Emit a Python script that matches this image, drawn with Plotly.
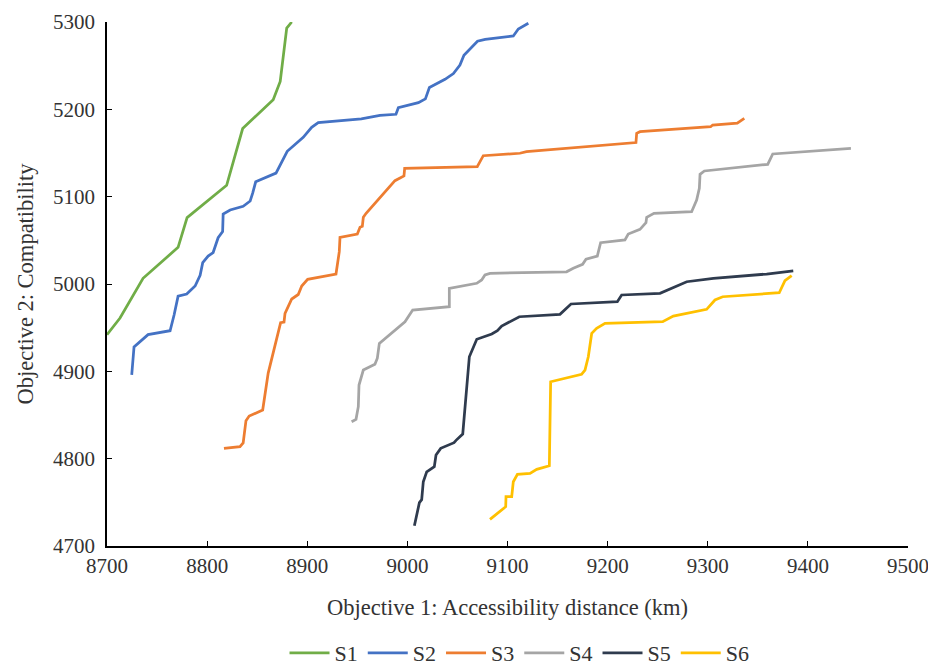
import plotly.graph_objects as go

# ---- data ----
s1_x = [8700, 8713, 8736, 8771, 8780, 8819.5, 8835.5, 8866, 8873, 8879.5, 8884.5]
s1_y = [4942, 4961, 5006.5, 5042, 5076, 5113, 5178, 5211, 5232, 5293, 5300]

s2_x = [8724.7, 8727, 8741, 8763, 8767, 8771, 8779.6, 8788, 8793, 8795.6, 8801, 8806, 8811,
        8815.5, 8816, 8823, 8836, 8843, 8845.5, 8848.5, 8868.8, 8880, 8896, 8904.4, 8911,
        8954, 8972.6, 8988.6, 8991, 9011, 9018, 9022, 9037.6, 9046, 9052.5, 9056.5, 9070,
        9077.7, 9105.8, 9110.8, 9120.8]
s2_y = [4896, 4928, 4942, 4946.5, 4964.5, 4986, 4988.5, 4997.7, 5010, 5024.4, 5032, 5036, 5053,
        5060, 5080, 5084.7, 5089, 5095, 5104, 5117, 5127, 5152, 5168, 5179.4, 5184.7,
        5189, 5193, 5194.3, 5201.9, 5207.6, 5212, 5225, 5234.4, 5241, 5250.8, 5262, 5278,
        5280, 5284, 5292, 5298.5]

s3_x = [8816.8, 8832.8, 8836, 8838.8, 8842, 8855.5, 8861, 8873.4, 8876.8, 8877.8, 8884.5,
        8891, 8894.5, 8900.4, 8928.7, 8932, 8932.7, 8950, 8952.7, 8955, 8956, 8958.8,
        8987.6, 8996.6, 8997.3, 9069.8, 9075.8, 9112.4, 9119, 9192.4, 9221.6, 9228.3,
        9229, 9232.3, 9302.9, 9304.9, 9329.5, 9332.2, 9336.5]
s3_y = [4811.8, 4813.7, 4818, 4843.5, 4848.8, 4855.7, 4898, 4955.7, 4956.5, 4966.4, 4982.8,
        4988, 4997.7, 5005.3, 5011.4, 5037, 5053.4, 5057.2, 5065, 5066, 5076.4, 5081,
        5118.3, 5123.7, 5132.5, 5134.3, 5146.9, 5149.7, 5151.5, 5158.4, 5161, 5162,
        5172.5, 5174.4, 5180.1, 5182, 5184.3, 5186.6, 5189.7]

s4_x = [8944.3, 8948.7, 8951, 8951.7, 8956, 8967.6, 8970, 8972, 8997.6, 9005.3, 9041.9,
        9041.9, 9069.3, 9074.2, 9077.5, 9082.5, 9159, 9165.7, 9175, 9178.4, 9189.7, 9193,
        9217.3, 9220.6, 9232.3, 9238.3, 9239, 9246.3, 9283.9, 9288.9, 9291.6, 9292.3,
        9296.6, 9359.9, 9364.9, 9443]
s4_y = [4842.3, 4845, 4859.5, 4884.3, 4901.5, 4908, 4915, 4932, 4956.8, 4970.2, 4974,
        4995, 5000.8, 5004.6, 5010.3, 5012.2, 5014, 5018, 5022.5, 5028.3, 5032, 5047.3,
        5050.4, 5057.2, 5062.6, 5070.2, 5076.4, 5081, 5082.8, 5096.2, 5109.6, 5125.6,
        5129.4, 5137, 5148.9, 5155.4]

s5_x = [9007, 9012, 9014.3, 9015.9, 9019.3, 9026.9, 9028.6, 9033.3, 9046.6, 9048.6, 9055.3,
        9061.9, 9069.3, 9084.3, 9089.9, 9094.2, 9111.8, 9152.4, 9163.4, 9209.7, 9214,
        9252.3, 9279, 9305.6, 9358.8, 9385.4]
s5_y = [4723.2, 4749.6, 4753, 4773.6, 4785, 4790.8, 4804.2, 4811.8, 4818.3, 4821, 4828.2,
        4916.7, 4936.7, 4942.7, 4946.5, 4951.9, 4962.5, 4965.3, 4977.1, 4979.7, 4987.4,
        4989.3, 5002.6, 5006.5, 5011.4, 5014.9]

s6_x = [9082.5, 9098.2, 9098.5, 9104.2, 9105.8, 9109.9, 9122.5, 9129.2, 9141.8, 9143.1,
        9174, 9177.4, 9180.7, 9184.1, 9189, 9197.4, 9255, 9265.6, 9298.9, 9307.2, 9314.9,
        9371.4, 9377.1, 9383.8]
s6_y = [4730.5, 4745, 4756.4, 4756.4, 4773.6, 4782.1, 4783.2, 4787.8, 4791.9, 4888.1,
        4896.6, 4901.5, 4916.7, 4943.5, 4949.3, 4955, 4956.8, 4963.3, 4971, 4981.7, 4985.4,
        4990, 5003.8, 5009.5]

series_names = ["S1", "S2", "S3", "S4", "S5", "S6"]
series_x = [s1_x, s2_x, s3_x, s4_x, s5_x, s6_x]
series_y = [s1_y, s2_y, s3_y, s4_y, s5_y, s6_y]
colors = ["#70AD47", "#4472C4", "#ED7D31", "#A5A5A5", "#2F3B4E", "#FFC000"]

x_ticks = [8700, 8800, 8900, 9000, 9100, 9200, 9300, 9400, 9500]
y_ticks = [4700, 4800, 4900, 5000, 5100, 5200, 5300]

FONT = "Liberation Serif, serif"
TXT = "#333333"

fig = go.Figure()
for name, xs, ys, c in zip(series_names, series_x, series_y, colors):
    fig.add_trace(go.Scatter(x=xs, y=ys, mode="lines", name=name,
                             line=dict(color=c, width=2.75)))

fig.update_layout(
    width=928, height=668,
    margin=dict(l=107, r=20, t=22, b=122, autoexpand=False),
    paper_bgcolor="white", plot_bgcolor="white",
    font=dict(family=FONT, size=21, color=TXT),
    showlegend=True,
    legend=dict(orientation="h", x=0.515, xanchor="center", y=-0.2443, yanchor="bottom",
                font=dict(family=FONT, size=22, color=TXT), itemwidth=40,
                tracegroupgap=0, bgcolor="rgba(0,0,0,0)"),
)
fig.update_xaxes(
    range=[8700, 9500], tickvals=x_ticks, ticktext=[str(v) for v in x_ticks],
    showgrid=False, zeroline=False, showline=True, linecolor="black", linewidth=1.5,
    ticks="inside", ticklen=5, tickcolor="black", tickwidth=1,
    tickfont=dict(family=FONT, size=21, color=TXT), automargin=False,
    ticklabeloverflow="allow",
    title=dict(text="Objective 1: Accessibility distance (km)",
               font=dict(family=FONT, size=22.5, color=TXT), standoff=22),
)
fig.update_yaxes(
    range=[4700, 5300], tickvals=y_ticks, ticktext=[str(v) for v in y_ticks],
    showgrid=False, zeroline=False, showline=True, linecolor="black", linewidth=1.5,
    ticks="inside", ticklen=5, tickcolor="black", tickwidth=1, ticklabelstandoff=6,
    tickfont=dict(family=FONT, size=21, color=TXT), automargin=False,
    ticklabeloverflow="allow",
    title=dict(text="Objective 2: Compatibility",
               font=dict(family=FONT, size=22.5, color=TXT), standoff=13),
)

fig.write_html("out.html")
